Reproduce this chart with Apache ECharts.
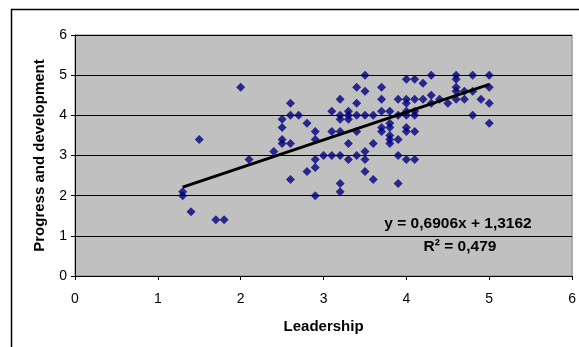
<!DOCTYPE html>
<html>
<head>
<meta charset="utf-8">
<script src="https://cdn.jsdelivr.net/npm/echarts@6/dist/echarts.min.js"></script>
<style>
  html, body { margin: 0; padding: 0; background: #fff; }
  #chart { width: 579px; height: 347px; }
</style>
</head>
<body>
<div id="chart"></div>
<script>
// Leadership (x) vs Progress and development (y)
var leadership = [
    1.3, 1.3, 1.4, 1.5, 1.7, 1.8, 2.0, 2.1, 2.4,
    2.5, 2.5, 2.5, 2.5,
    2.6, 2.6, 2.6, 2.6,
    2.7,
    2.8, 2.8,
    2.9, 2.9, 2.9, 2.9, 2.9,
    3.0,
    3.1, 3.1, 3.1,
    3.2, 3.2, 3.2, 3.2, 3.2, 3.2, 3.2,
    3.3, 3.3, 3.3, 3.3, 3.3,
    3.4, 3.4, 3.4, 3.4, 3.4,
    3.5, 3.5, 3.5, 3.5, 3.5, 3.5,
    3.6, 3.6, 3.6,
    3.7, 3.7, 3.7, 3.7, 3.7,
    3.8, 3.8, 3.8, 3.8, 3.8, 3.8,
    3.9, 3.9, 3.9, 3.9, 3.9,
    4.0, 4.0, 4.0, 4.0, 4.0, 4.0, 4.0, 4.0,
    4.1, 4.1, 4.1, 4.1, 4.1, 4.1,
    4.2, 4.2,
    4.3, 4.3, 4.3,
    4.4, 4.5,
    4.6, 4.6, 4.6, 4.6, 4.6,
    4.7, 4.7,
    4.8, 4.8, 4.8,
    4.9,
    5.0, 5.0, 5.0, 5.0
];
var progress = [
    2.1, 2.0, 1.6, 3.4, 1.4, 1.4, 4.7, 2.9, 3.1,
    3.9, 3.7, 3.4, 3.3,
    4.3, 4.0, 3.3, 2.4,
    4.0,
    3.8, 2.6,
    3.6, 3.4, 2.9, 2.7, 2.0,
    3.0,
    4.1, 3.6, 3.0,
    4.4, 4.0, 3.9, 3.6, 3.0, 2.3, 2.1,
    4.1, 4.0, 3.9, 3.3, 2.9,
    4.7, 4.3, 4.0, 3.6, 3.0,
    5.0, 4.6, 4.0, 3.1, 2.9, 2.6,
    4.0, 3.3, 2.4,
    4.7, 4.4, 4.1, 3.7, 3.6,
    4.1, 3.8, 3.7, 3.5, 3.4, 3.3,
    4.4, 4.0, 3.4, 3.0, 2.3,
    4.9, 4.4, 4.3, 4.1, 4.0, 3.7, 3.6, 2.9,
    4.9, 4.4, 4.1, 4.0, 3.6, 2.9,
    4.8, 4.4,
    5.0, 4.5, 4.3,
    4.4, 4.3,
    5.0, 4.9, 4.7, 4.6, 4.4,
    4.6, 4.4,
    5.0, 4.6, 4.0,
    4.4,
    5.0, 4.7, 4.3, 3.8
];

// linear trendline as printed on the chart
var slope = 0.6906;
var intercept = 1.3162;
var rSquared = '0,479';

var points = leadership.map(function (x, i) { return [x, progress[i]]; });
var xMin = Math.min.apply(null, leadership);
var xMax = Math.max.apply(null, leadership);
var trend = [
    [xMin, slope * xMin + intercept],
    [xMax, slope * xMax + intercept]
];

var font = 'Liberation Sans, Arial, sans-serif';

var option = {
    animation: false,
    backgroundColor: '#ffffff',
    grid: {
        left: 75,
        top: 35,
        right: 6,
        bottom: 71,
        show: true,
        backgroundColor: '#c0c0c0',
        borderColor: '#808080',
        borderWidth: 1
    },
    xAxis: {
        type: 'value',
        min: 0,
        max: 6,
        interval: 1,
        name: 'Leadership',
        nameLocation: 'middle',
        nameGap: 43,
        nameTextStyle: { fontFamily: font, fontSize: 15, fontWeight: 'bold', color: '#000' },
        axisLine: { show: true, lineStyle: { color: '#000', width: 1 } },
        axisTick: { show: true, inside: false, length: 4, lineStyle: { color: '#000' } },
        axisLabel: { fontFamily: font, fontSize: 14, color: '#000', margin: 16 },
        splitLine: { show: false }
    },
    yAxis: {
        type: 'value',
        min: 0,
        max: 6,
        interval: 1,
        name: 'Progress and development',
        nameLocation: 'middle',
        nameGap: 28,
        nameTextStyle: { fontFamily: font, fontSize: 15, fontWeight: 'bold', color: '#000' },
        axisLine: { show: true, lineStyle: { color: '#000', width: 1 } },
        axisTick: { show: true, inside: false, length: 4, lineStyle: { color: '#000' } },
        axisLabel: { fontFamily: font, fontSize: 14, color: '#000', margin: 8 },
        splitLine: { show: true, lineStyle: { color: '#000', width: 1 } }
    },
    series: [
        {
            type: 'scatter',
            data: points,
            symbol: 'diamond',
            symbolSize: 9,
            itemStyle: { color: '#000080' },
            z: 2
        },
        {
            type: 'line',
            data: trend,
            showSymbol: false,
            symbol: 'none',
            lineStyle: { color: '#000', width: 3 },
            z: 3
        }
    ],
    graphic: [
        {
            type: 'rect',
            shape: { x: 11.5, y: 9.5, width: 600, height: 400 },
            style: { fill: 'none', stroke: '#000', lineWidth: 1.5 },
            silent: true
        },
        {
            type: 'text',
            x: 458,
            y: 224,
            style: {
                text: 'y = ' + String(slope).replace('.', ',') + 'x + ' + String(intercept).replace('.', ','),
                font: 'bold 15.5px ' + font,
                fill: '#000',
                textAlign: 'center',
                textVerticalAlign: 'middle'
            },
            z: 10
        },
        {
            type: 'text',
            x: 460,
            y: 247,
            style: {
                text: 'R² = ' + rSquared,
                font: 'bold 15.5px ' + font,
                fill: '#000',
                textAlign: 'center',
                textVerticalAlign: 'middle'
            },
            z: 10
        }
    ]
};

var myChart = echarts.init(document.getElementById('chart'));
myChart.setOption(option);
</script>
</body>
</html>
